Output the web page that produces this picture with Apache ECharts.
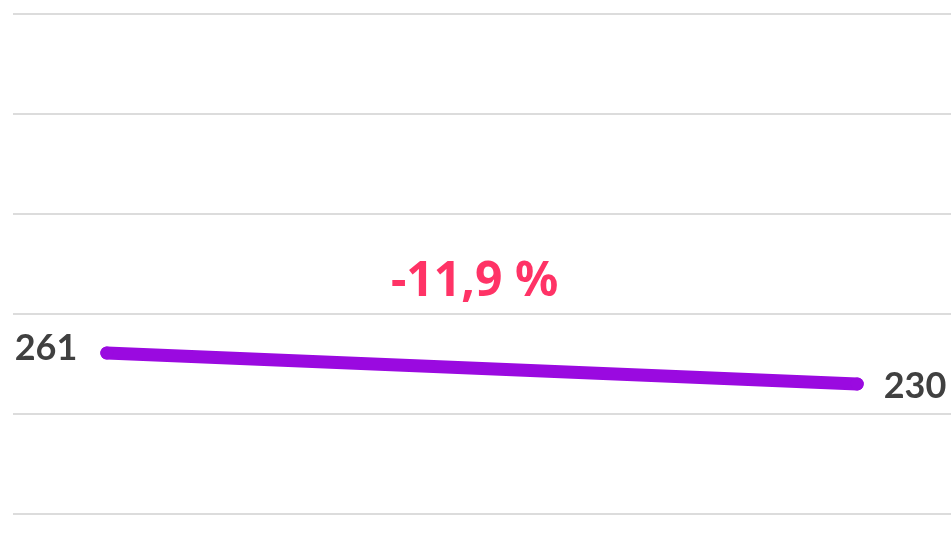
<!DOCTYPE html>
<html>
<head>
<meta charset="utf-8">
<script src="https://cdn.jsdelivr.net/npm/echarts@6/dist/echarts.min.js"></script>
<style>
    html, body { margin: 0; padding: 0; background: #fff; }
    #chart { width: 951px; height: 533px; }
</style>
</head>
<body>
<div id="chart"></div>
<script>
// two points: start and end
const xPositions = [0, 1];
const values = [261, 230];
const yTicks = { min: 100, max: 600, interval: 100 };

const change = (values[1] - values[0]) / values[0] * 100;
const changeText = change.toFixed(1).replace(".", ",") + " %";

const chart = echarts.init(document.getElementById("chart"));

const labelStyle = {
    show: true,
    fontFamily: "Lato",
    fontWeight: "bold",
    fontSize: 36,
    color: "#404040"
};

chart.setOption({
    animation: false,
    grid: { left: 13, right: 0, top: 14, bottom: 19 },
    xAxis: {
        type: "value",
        min: function (v) { return v.min - 0.125 * (v.max - v.min); },
        max: function (v) { return v.max + 0.125 * (v.max - v.min); },
        show: false,
        splitLine: { show: false }
    },
    yAxis: {
        type: "value",
        min: yTicks.min,
        max: yTicks.max,
        interval: yTicks.interval,
        axisLabel: { show: false },
        axisLine: { show: false },
        axisTick: { show: false },
        splitLine: { lineStyle: { color: "#dcdcdc", width: 2 } }
    },
    graphic: [{
        type: "text",
        left: 391,
        top: 258,
        style: {
            text: changeText,
            fontFamily: "Noto Sans",
            fontWeight: "bold",
            fontSize: 48,
            fill: "#ff3366"
        }
    }],
    series: [{
        type: "line",
        data: [
            { value: [xPositions[0], values[0]], label: Object.assign({}, labelStyle, { position: "left", distance: 23, offset: [0, -5] }) },
            { value: [xPositions[1], values[1]], label: Object.assign({}, labelStyle, { position: "right", distance: 20, offset: [0, 2] }) }
        ],
        symbol: "circle",
        symbolSize: 13,
        itemStyle: { color: "#9a0ae0" },
        lineStyle: { color: "#9a0ae0", width: 13, cap: "round" },
        label: { formatter: function (p) { return p.value[1]; } }
    }]
});
</script>
</body>
</html>
